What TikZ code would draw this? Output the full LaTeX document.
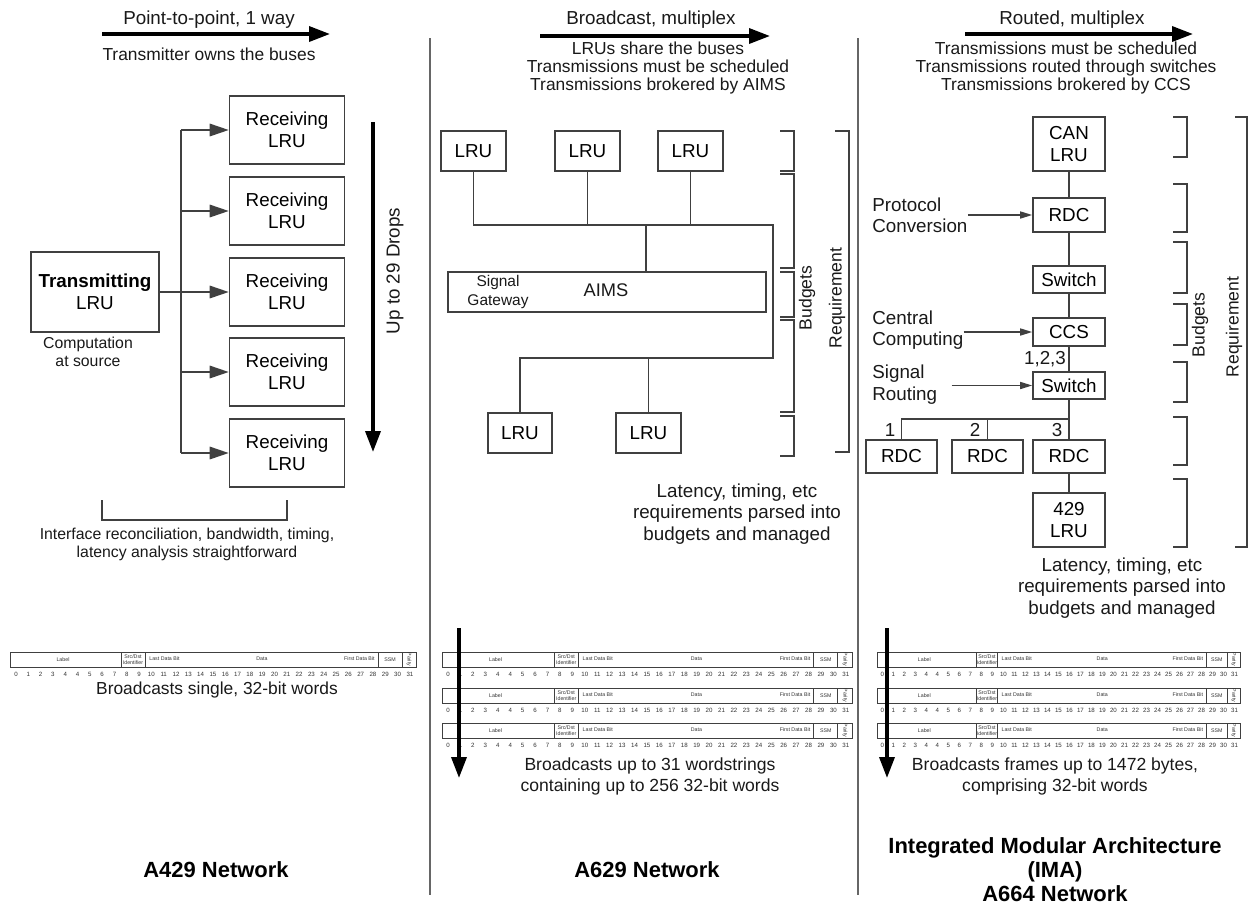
\documentclass[tikz,border=0pt]{standalone}
\usepackage{fontspec}
\setmainfont{Liberation Sans}
\usetikzlibrary{arrows.meta, positioning}

\tikzset{
  box/.style={draw=black!75, line width=0.9pt, fill=white, inner sep=1pt, align=center,
    font=\fontsize{10.7}{12.5}\selectfont},
  wire/.style={draw=black!75, line width=0.9pt},
  feed/.style={wire, -{Triangle[length=0.38cm, width=0.25cm]}},
  inarrow/.style={wire, -{Triangle[length=0.24cm, width=0.14cm]}},
  bigarrow/.style={draw=black, line width=2pt, -{Triangle[length=0.42cm, width=0.3cm]}},
  brk/.style={draw=black!75, line width=0.9pt},
  txt/.style={font=\fontsize{10.7}{12.2}\selectfont, align=center, inner sep=0pt, text=black!90},
  sub/.style={font=\fontsize{9.9}{10.2}\selectfont, align=center, inner sep=0pt, text=black!90},
  note/.style={font=\fontsize{9}{10.2}\selectfont, align=center, inner sep=0pt, text=black!90},
  heading/.style={font=\fontsize{12.5}{13.6}\selectfont\bfseries, align=center, inner sep=0pt},
  field/.style={font=\fontsize{3}{3.4}\selectfont, inner sep=0pt, align=center, text=black!80},
  bitno/.style={font=\fontsize{3.5}{4}\selectfont, inner sep=0pt, text=black!80, anchor=base},
}

% one 32-bit word: x0, y0, width
\newcommand{\wordrow}[3]{%
  \begin{scope}[shift={(#1,#2)}, xscale=#3/406]
    \draw[wire, line width=0.5pt] (0,0) rectangle (406,15);
    \foreach \xx in {111,135,368,392}
      \draw[wire, line width=0.5pt] (\xx,0) -- (\xx,15);
    \node[field] at (53,7.5) {Label};
    \node[field] at (123,7.5) {Src/Dst\\Identifier};
    \node[field, anchor=west] at (139,7) {Last Data Bit};
    \node[field] at (252,7) {Data};
    \node[field, anchor=east] at (365,7) {First Data Bit};
    \node[field] at (380,7.5) {SSM};
    \node[field, rotate=-90] at (399,7.5) {Parity};
    \foreach \bitv [count=\i from 0] in {0,1,2,3,4,4,5,6,7,8,9,10,11,12,13,14,15,16,17,18,19,20,21,22,23,24,25,26,27,28,29,30,31}
      \node[bitno] at ({6+\i*12.31},24) {\bitv};
  \end{scope}}

\begin{document}
\begin{tikzpicture}[x=0.02cm, y=-0.02cm]
\useasboundingbox (0,0) rectangle (1249,907);

% column dividers
\draw[black!60, line width=0.8pt] (430,38) -- (430,895);
\draw[black!60, line width=0.8pt] (858,38) -- (858,895);

% ---------- A429 ----------
\node[txt] (h1) at (209,20) {Point-to-point, 1 way};
\coordinate (h1s) at (102,34);
\coordinate (h1e) at (330,34);
\draw[bigarrow] (h1s) -- (h1e);
\node[sub] (h1t) at (209,54) {Transmitter owns the buses};

\node[box, minimum width=2.56cm, minimum height=1.6cm] (tx) at (95,292) {\textbf{Transmitting}\\LRU};
\node[note] (txn) at (88,352) {Computation\\at source};

\foreach \i/\yy in {1/130,2/211,3/292,4/372,5/453}
  \node[box, minimum width=2.3cm, minimum height=1.36cm] (rx\i) at (287,\yy) {Receiving\\LRU};

\draw[wire, line width=1.3pt] (tx.east) -- ++(21,0) coordinate (bj);
\draw[wire] (bj |- rx1.west) -- (bj |- rx5.west);
\foreach \i in {1,...,5}
  \draw[feed] (bj |- rx\i.west) -- (rx\i.west);

\coordinate (d1) at (373,122);
\coordinate (d2) at (373,452);
\draw[bigarrow] (d1) -- (d2);
\node[txt, rotate=90] (drops) at (395,271) {Up to 29 Drops};

\draw[brk] (102,500) -- (102,520) -- (287,520) -- (287,500);
\node[note] (ifc) at (187,544) {Interface reconciliation, bandwidth, timing,\\latency analysis straightforward};

\wordrow{10}{652}{406}
\node[sub] (w1) at (217,690) {Broadcasts single, 32-bit words};

\node[heading] (t1) at (216,870) {A429 Network};

% ---------- A629 ----------
\node[txt] (h2) at (651,20) {Broadcast, multiplex};
\coordinate (h2s) at (540,36);
\coordinate (h2e) at (770,36);
\draw[bigarrow] (h2s) -- (h2e);
\node[sub] (h2t) at (658,68) {LRUs share the buses\\Transmissions must be scheduled\\Transmissions brokered by AIMS};

\node[box, minimum width=1.3cm, minimum height=0.8cm] (a1) at (473.5,151) {LRU};
\node[box, minimum width=1.3cm, minimum height=0.8cm] (a2) at (587.5,151) {LRU};
\node[box, minimum width=1.3cm, minimum height=0.8cm] (a3) at (690.5,151) {LRU};
\node[box, minimum width=6.36cm, minimum height=0.8cm] (aims) at (607,292) {};
\node[note, font=\fontsize{8.8}{10.5}\selectfont] (gw) at (498,292) {Signal\\Gateway};
\node[txt, font=\fontsize{10.4}{12}\selectfont] (aimsl) at (606,290) {AIMS};
\node[box, minimum width=1.28cm, minimum height=0.8cm] (b1) at (520,433) {LRU};
\node[box, minimum width=1.3cm, minimum height=0.8cm] (b2) at (648.5,433) {LRU};

\coordinate (busT) at (773,225);
\coordinate (busB) at (773,358);
\coordinate (tap) at (646,225);
\draw[wire] (a1.south) |- (busT) -- (busB) -| (b1.north);
\draw[wire] (a2.south) -- (a2.south |- busT);
\draw[wire] (a3.south) -- (a3.south |- busT);
\draw[wire] (tap) -- (tap |- aims.north);
\draw[wire] (b2.north) -- (b2.north |- busB);

\foreach \ya/\yb in {131/171,174/268,272/317,320/412,416/456}
  \draw[brk] (780,\ya) -- (794,\ya) -- (794,\yb) -- (780,\yb);
\draw[brk] (835,131) -- (849,131) -- (849,452) -- (835,452);
\node[txt, font=\fontsize{10}{12}\selectfont, rotate=90] (bud2) at (807,298) {Budgets};
\node[txt, font=\fontsize{10}{12}\selectfont, rotate=90] (req2) at (837,298) {Requirement};

\node[txt] (lat2) at (737,514) {Latency, timing, etc\\requirements parsed into\\budgets and managed};

\wordrow{442}{652}{410}
\wordrow{442}{688}{410}
\wordrow{442}{723}{410}
\coordinate (v2s) at (459,628);
\coordinate (v2e) at (459,778);
\draw[bigarrow] (v2s) -- (v2e);
\node[sub, font=\fontsize{10}{12}\selectfont] (w2) at (650,776) {Broadcasts up to 31 wordstrings\\containing up to 256 32-bit words};

\node[heading] (t2) at (647,870) {A629 Network};

% ---------- A664 ----------
\node[txt] (h3) at (1072,20) {Routed, multiplex};
\coordinate (h3s) at (965,34);
\coordinate (h3e) at (1193,34);
\draw[bigarrow] (h3s) -- (h3e);
\node[sub] (h3t) at (1066,68) {Transmissions must be scheduled\\Transmissions routed through switches\\Transmissions brokered by CCS};

\node[box, minimum width=1.44cm, minimum height=1.08cm] (can) at (1069,144) {CAN\\LRU};
\node[box, minimum width=1.44cm, minimum height=0.68cm] (rdc0) at (1069,215) {RDC};
\node[box, minimum width=1.44cm, minimum height=0.54cm] (sw1) at (1069,279.5) {Switch};
\node[box, minimum width=1.44cm, minimum height=0.56cm] (ccs) at (1069,332) {CCS};
\node[box, minimum width=1.44cm, minimum height=0.54cm] (sw2) at (1069,385.5) {Switch};
\node[box, minimum width=1.42cm, minimum height=0.66cm] (rdc1) at (901.5,456.5) {RDC};
\node[box, minimum width=1.42cm, minimum height=0.66cm] (rdc2) at (987.5,456.5) {RDC};
\node[box, minimum width=1.44cm, minimum height=0.66cm] (rdc3) at (1069,456.5) {RDC};
\node[box, minimum width=1.44cm, minimum height=1.08cm] (lru429) at (1069,520) {429\\LRU};

\draw[wire] (can.south) -- (rdc0.north);
\draw[wire] (rdc0.south) -- (sw1.north);
\draw[wire] (sw1.south) -- (ccs.north);
\draw[wire] (ccs.south) -- (sw2.north);
\coordinate (split) at (1069,419);
\draw[wire] (split -| rdc2.north) -| (rdc1.north);
\draw[wire] (split -| rdc2.north) -- (rdc2.north);
\draw[wire] (split) -- (rdc3.north);
\draw[wire, line width=1.3pt] (sw2.south) -- (split) -- (split -| rdc2.north);
\draw[wire] (rdc3.south) -- (lru429.north);

\node[txt] (n1) at (890,430) {1};
\node[txt] (n2) at (975,430) {2};
\node[txt] (n3) at (1057,430) {3};
\node[txt] (n123) at (1045,359) {1,2,3};

\node[txt, align=left, anchor=west] (proto) at (872,215) {Protocol\\Conversion};
\node[txt, align=left, anchor=west] (cc) at (872,330) {Central\\Computing};
\node[txt, align=left, anchor=west] (sr) at (872,384.5) {Signal\\Routing};
\draw[inarrow] (proto.east |- rdc0.west) -- (rdc0.west);
\draw[inarrow] (cc.east |- ccs.west) -- (ccs.west);
\draw[inarrow] ([xshift=8]sr.east |- sw2.west) -- (sw2.west);

\foreach \ya/\yb in {117/157,184/232,242/293,304/345,362/402,417/465,479/547}
  \draw[brk] (1173,\ya) -- (1187,\ya) -- (1187,\yb) -- (1173,\yb);
\draw[brk] (1235,117) -- (1247,117) -- (1247,547) -- (1235,547);
\node[txt, font=\fontsize{10}{12}\selectfont, rotate=90] (bud3) at (1200,325) {Budgets};
\node[txt, font=\fontsize{10}{12}\selectfont, rotate=90] (req3) at (1234,327) {Requirement};

\node[txt] (lat3) at (1122,588) {Latency, timing, etc\\requirements parsed into\\budgets and managed};

\wordrow{877}{652}{363}
\wordrow{877}{688}{363}
\wordrow{877}{723}{363}
\coordinate (v3s) at (887,628);
\coordinate (v3e) at (887,778);
\draw[bigarrow] (v3s) -- (v3e);
\node[sub, font=\fontsize{10}{12}\selectfont] (w3) at (1055,776) {Broadcasts frames up to 1472 bytes,\\comprising 32-bit words};

\node[heading] (t3) at (1055,870) {Integrated Modular Architecture\\(IMA)\\A664 Network};
\end{tikzpicture}
\end{document}
